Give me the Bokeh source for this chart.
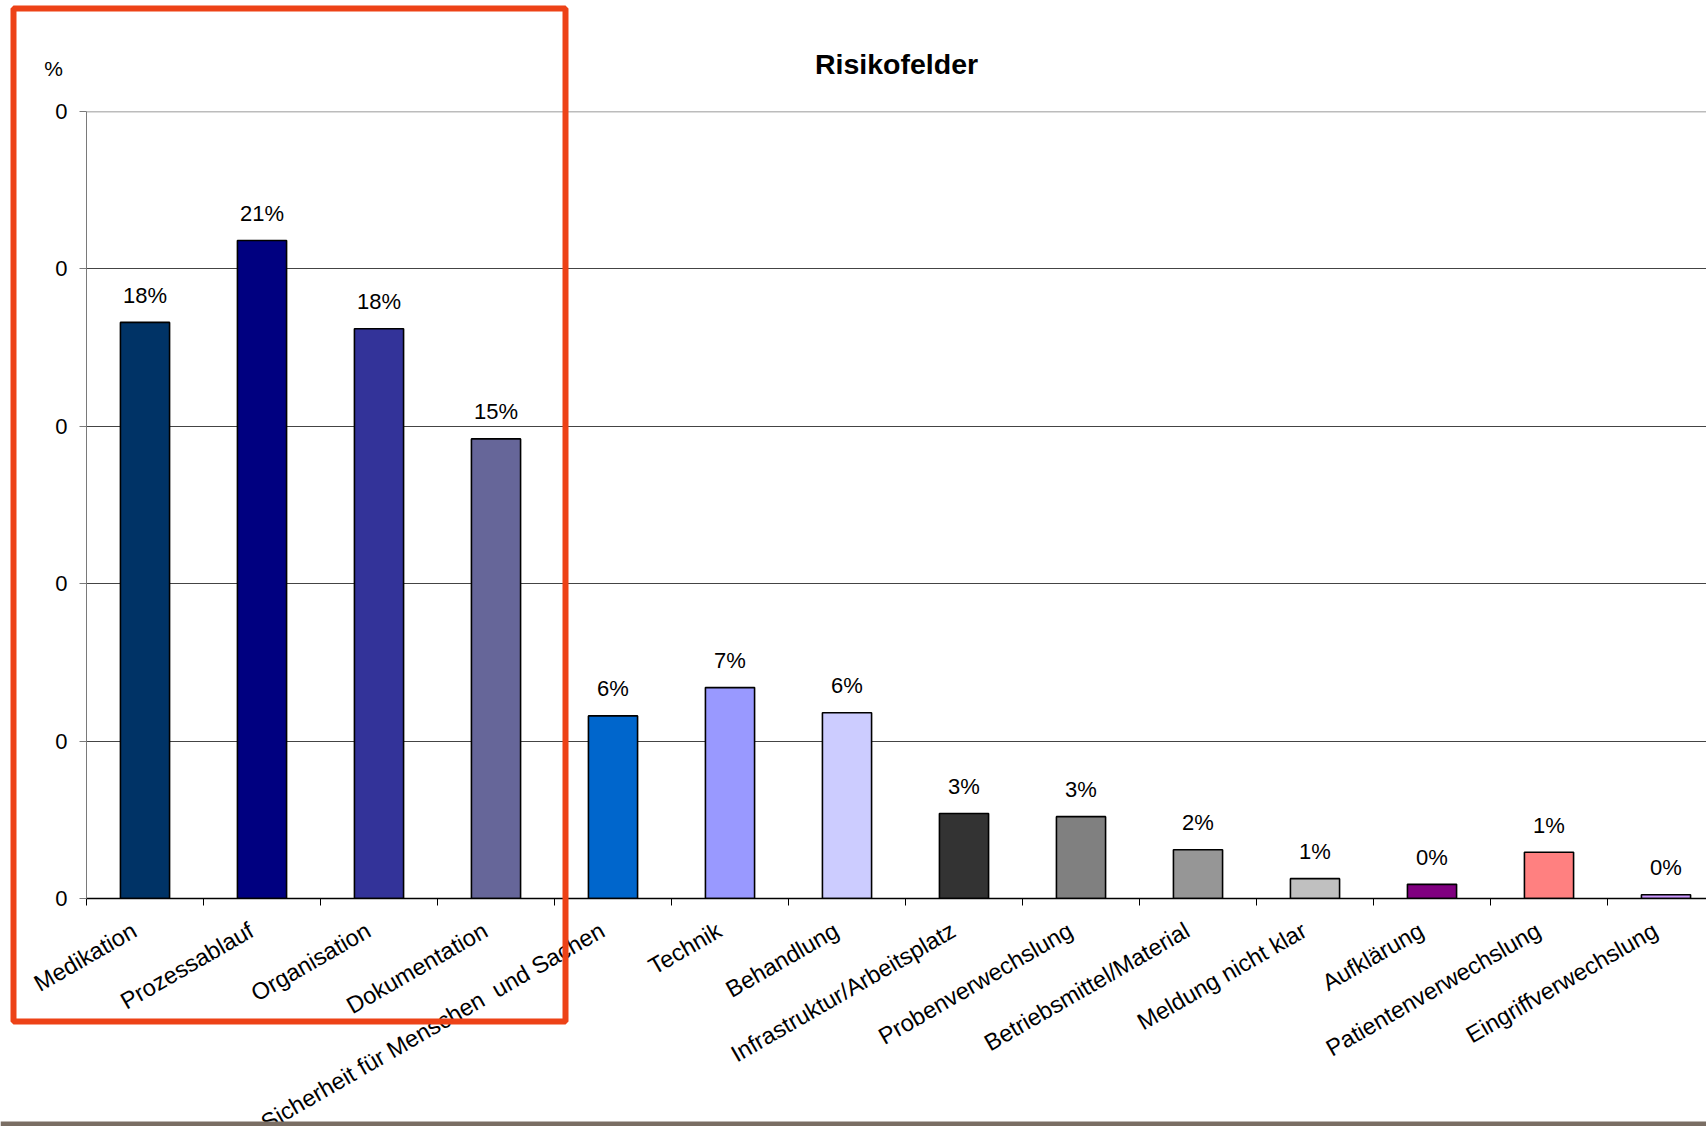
from bokeh.plotting import figure
from bokeh.layouts import column
from bokeh.models import (Range1d, FixedTicker, CustomJSTickFormatter, NumeralTickFormatter,
                          ColumnDataSource, Span, GridBox)
from bokeh.core.properties import value
from bokeh.embed import file_html
from bokeh.resources import INLINE

# Risikofelder: share of reports per risk field
categories = ["Medikation", "Prozessablauf", "Organisation", "Dokumentation",
              "Sicherheit für Menschen \u00a0und Sachen", "Technik", "Behandlung",
              "Infrastruktur/Arbeitsplatz", "Probenverwechslung", "Betriebsmittel/Material",
              "Meldung nicht klar", "Aufklärung", "Patientenverwechslung", "Eingriffverwechslung"]
shares = [0.183, 0.209, 0.181, 0.146, 0.058, 0.067, 0.059,
          0.027, 0.026, 0.0155, 0.0063, 0.0045, 0.0147, 0.0012]
bar_colors = ["#003366", "#000080", "#333399", "#666699", "#0066CC", "#9999FF", "#CCCCFF",
              "#333333", "#808080", "#969696", "#C0C0C0", "#800080", "#FF8080", "#CC99FF"]
y_ticks = [0.0, 0.05, 0.10, 0.15, 0.20, 0.25]

FONT = "Liberation Sans"
W, H = 1706, 1126
LEFT, TOP = 86, 111
FRAME_W, FRAME_H = W - LEFT, 787
CAT_PX = 117.0          # width of one category slot in pixels

xs = [i + 0.5 for i in range(len(categories))]
src = ColumnDataSource(dict(
    x=xs, top=shares, color=bar_colors,
    label=[f"{round(v * 100):d}%" for v in shares],
))

p = figure(frame_width=FRAME_W, frame_height=FRAME_H, output_backend="svg",
           toolbar_location=None,
           x_range=Range1d(0, FRAME_W / CAT_PX), y_range=Range1d(0, 0.25),
           min_border_left=LEFT, min_border_right=0, min_border_top=TOP,
           min_border_bottom=0, title="Risikofelder")
p.outline_line_color = None
p.background_fill_color = "white"
p.border_fill_color = "white"

p.title.align = "center"
p.title.text_font = FONT
p.title.text_font_size = "28.5px"
p.title.text_font_style = "bold"
p.title.text_color = "black"
p.title.standoff = 64

p.vbar(x="x", top="top", bottom=0, width=0.42, source=src,
       fill_color="color", line_color="black", line_width=1.6)

p.text(x="x", y="top", text="label", source=src, text_align="center",
       text_baseline="alphabetic", y_offset=-27, text_font=value(FONT),
       text_font_size="22px", text_color="black")

# grid
p.xgrid.visible = False
p.ygrid.ticker = FixedTicker(ticks=y_ticks[1:-1])
p.ygrid.grid_line_color = "#444444"
p.ygrid.grid_line_width = 1
p.add_layout(Span(location=0.25, dimension="width", line_color="#7a7a7a", line_width=1.5))

# x axis: labels near category centres, ticks between categories
xa = p.xaxis[0]
xa.ticker = FixedTicker(ticks=[x - 0.09 for x in xs],
                        minor_ticks=list(range(len(categories) + 1)))
xa.formatter = CustomJSTickFormatter(args=dict(labels=categories),
                                     code="return labels[Math.floor(tick)] || '';")
xa.major_label_orientation = 0.5236
xa.major_tick_out = 0
xa.major_tick_in = 0
xa.minor_tick_out = 7
xa.minor_tick_in = 0
xa.minor_tick_line_color = "black"
xa.axis_line_color = "black"
xa.axis_line_width = 1.5
xa.major_label_standoff = 23
xa.major_label_text_font = FONT
xa.major_label_text_font_size = "23.5px"
xa.major_label_text_color = "black"

ya = p.yaxis[0]
ya.ticker = FixedTicker(ticks=y_ticks)
ya.formatter = NumeralTickFormatter(format="0")
ya.axis_line_color = "#7a7a7a"
ya.major_tick_line_color = "#7a7a7a"
ya.major_tick_out = 7
ya.major_tick_in = 0
ya.minor_tick_out = 0
ya.minor_tick_in = 0
ya.major_label_standoff = 12
ya.major_label_text_font = FONT
ya.major_label_text_font_size = "22px"
ya.major_label_text_color = "black"

# transparent overlay in pixel space: unit label, highlight frame, footer band
ov = figure(width=W, height=H, output_backend="svg", toolbar_location=None,
            x_range=Range1d(0, W), y_range=Range1d(H, 0), min_border=0,
            x_axis_location=None, y_axis_location=None)
ov.grid.visible = False
ov.outline_line_color = None
ov.background_fill_alpha = 0
ov.border_fill_alpha = 0
ov.text(x=[53], y=[68], text=["%"], text_align="center", text_baseline="middle",
        text_font=value(FONT), text_font_size="21px", text_color="black")
ov.quad(left=[13], right=[565], top=[8], bottom=[1021], fill_alpha=0,
        line_color="#ED4217", line_width=6)
ov.quad(left=[0], right=[W], top=[1121], bottom=[H], fill_color="#7A6E64",
        line_color=None)

layout = GridBox(children=[(column(p), 0, 0), (column(ov), 0, 0)], spacing=0,
                 width=W, height=H, styles={"overflow": "hidden"})

open("out.html", "w").write(file_html(layout, INLINE))
